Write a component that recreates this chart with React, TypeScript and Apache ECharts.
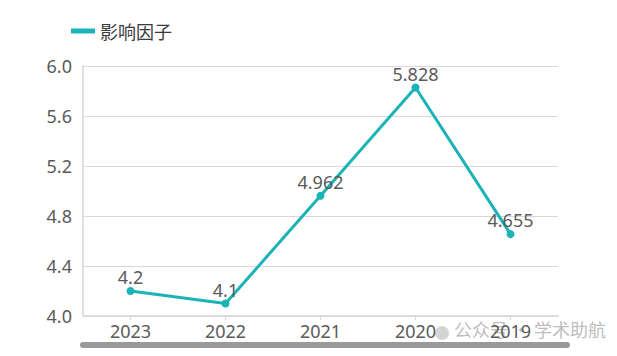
import React, { useEffect, useRef } from "react";
import * as echarts from "echarts";

const years = ["2023", "2022", "2021", "2020", "2019"];
const impactFactor = [4.2, 4.1, 4.962, 5.828, 4.655];
const seriesName = "影响因子";

export default function App() {
  const ref = useRef<HTMLDivElement>(null);
  useEffect(() => {
    if (!ref.current) return;
    const chart = echarts.init(ref.current, undefined, { renderer: "svg" });
    const font = "'Noto Sans', 'Noto Sans CJK SC', sans-serif";
    chart.setOption({
      animation: false,
      backgroundColor: "#ffffff",
      legend: {
        left: 66,
        top: 17,
        itemWidth: 24,
        itemHeight: 5,
        itemGap: 8,
        icon: "rect",
        textStyle: { fontSize: 18, color: "#3a3a3a", fontFamily: "'Noto Sans CJK SC', sans-serif" },
        data: [seriesName],
      },
      grid: { left: 83, right: 59, top: 66, bottom: 40, containLabel: false },
      xAxis: {
        type: "category",
        data: years,
        boundaryGap: true,
        axisLine: { show: true, lineStyle: { color: "#d6d6d6", width: 1.5 } },
        axisTick: { show: true, alignWithLabel: true, length: 4, lineStyle: { color: "#d6d6d6" } },
        axisLabel: { fontSize: 18, color: "#5a5a5a", margin: 6, fontFamily: font },
      },
      yAxis: {
        type: "value",
        min: 4.0,
        max: 6.0,
        interval: 0.4,
        axisLine: { show: true, lineStyle: { color: "#d6d6d6", width: 1.5 } },
        axisTick: { show: false },
        axisLabel: {
          fontSize: 18,
          color: "#5a5a5a",
          margin: 11,
          fontFamily: font,
          formatter: (v: number) => v.toFixed(1),
        },
        splitLine: { show: true, lineStyle: { color: "#d9d9d9", width: 1 } },
      },
      series: [
        {
          name: seriesName,
          type: "line",
          data: impactFactor,
          color: "#1bb3b6",
          lineStyle: { width: 3, color: "#1bb3b6" },
          symbol: "circle",
          symbolSize: 8,
          itemStyle: { color: "#1bb3b6" },
          label: {
            show: true,
            position: "top",
            distance: 1,
            fontSize: 18,
            color: "#5a5a5a",
            fontFamily: font,
          },
        },
      ],
      graphic: [
        {
          type: "rect",
          left: 80,
          top: 342,
          shape: { width: 490, height: 6, r: 3 },
          style: { fill: "#9a9a9a" },
        },
        {
          type: "circle",
          shape: { cx: 442, cy: 333, r: 7 },
          style: { fill: "rgba(170,170,170,0.5)" },
        },
        {
          type: "text",
          left: 454,
          top: 320,
          style: {
            text: "公众号 · 学术助航",
            fontSize: 18,
            fill: "rgba(150,150,150,0.65)",
            fontFamily: "'Noto Sans CJK SC', sans-serif",
          },
        },
      ],
    });
    return () => chart.dispose();
  }, []);
  return <div ref={ref} style={{ width: 617, height: 356, position: "absolute", left: 0, top: 0 }} />;
}
